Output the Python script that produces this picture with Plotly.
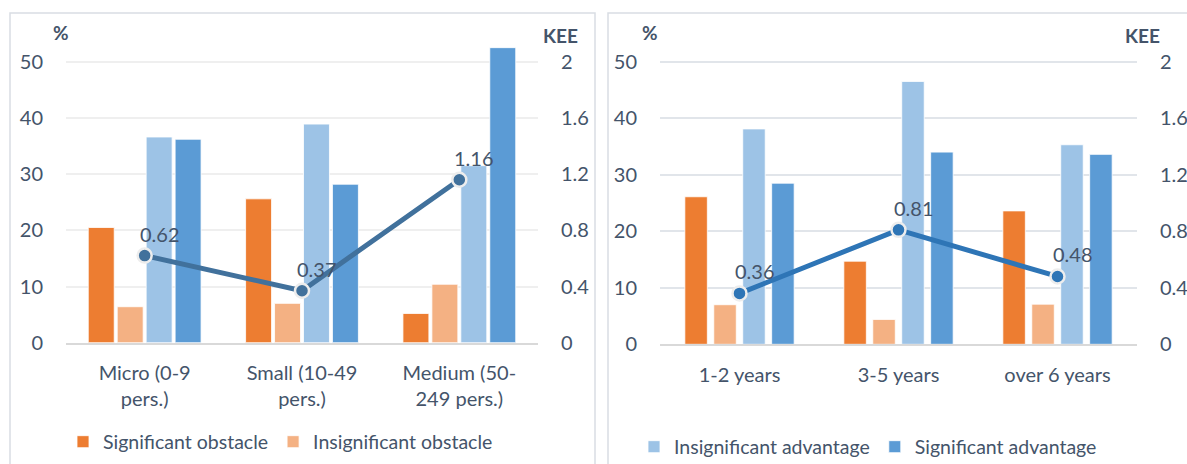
import plotly.graph_objects as go

# Categories
size_cats = ["Micro (0-9<br>pers.)", "Small (10-49<br>pers.)", "Medium (50-<br>249 pers.)"]
age_cats = ["1-2 years", "3-5 years", "over 6 years"]

# Shares (%) by enterprise size
size_sig_obstacle = [20.5, 25.6, 5.2]
size_insig_obstacle = [6.4, 7.0, 10.4]
size_insig_advantage = [36.6, 38.9, 31.5]
size_sig_advantage = [36.2, 28.2, 52.5]
size_kee = [0.62, 0.37, 1.16]

# Shares (%) by enterprise age
age_sig_obstacle = [26.1, 14.7, 23.6]
age_insig_obstacle = [7.0, 4.4, 7.1]
age_insig_advantage = [38.1, 46.5, 35.3]
age_sig_advantage = [28.5, 34.0, 33.6]
age_kee = [0.36, 0.81, 0.48]

series_names = ["Significant obstacle", "Insignificant obstacle",
                "Insignificant advantage", "Significant advantage"]
bar_colors = ["#ED7D31", "#F4B183", "#9DC3E6", "#5B9BD5"]

W, H = 1187, 464
FONT = "Lato"
TXT = "#44546A"


def px(x):
    return x / W


def py(y):
    return 1 - y / H


fig = go.Figure()


def add_panel(cats, series, kee, xa, ya, ya2, legend, show, bar_w, pitch, line_color):
    start = -(3 * pitch + bar_w) / 2
    for i, (name, vals, col) in enumerate(zip(series_names, series, bar_colors)):
        fig.add_trace(go.Bar(
            x=cats, y=vals, name=name, xaxis=xa, yaxis=ya,
            width=bar_w, offset=start + i * pitch,
            marker=dict(color=col, line=dict(color="rgba(255,255,255,0.8)", width=1)),
            legend=legend, showlegend=show[i], hoverinfo="skip",
        ))
    fig.add_trace(go.Scatter(
        x=cats, y=kee, xaxis=xa, yaxis=ya2, mode="lines+markers",
        line=dict(color=line_color, width=5),
        marker=dict(size=14, color=line_color, line=dict(color="#EDEDED", width=2.5)),
        showlegend=False, hoverinfo="skip",
    ))
    for c, v in zip(cats, kee):
        fig.add_annotation(x=c, y=v, xref=xa, yref=ya2, text=f"{v:.2f}",
                           showarrow=False, xshift=15, yshift=22,
                           xanchor="center", yanchor="middle",
                           font=dict(family=FONT, size=20, color=TXT))


add_panel(size_cats,
          [size_sig_obstacle, size_insig_obstacle, size_insig_advantage, size_sig_advantage],
          size_kee, "x", "y", "y2", "legend", [True, True, False, False],
          0.165, 0.184, "#41719C")
add_panel(age_cats,
          [age_sig_obstacle, age_insig_obstacle, age_insig_advantage, age_sig_advantage],
          age_kee, "x2", "y3", "y4", "legend2", [False, False, True, True],
          0.1415, 0.182, "#2E75B6")

tick_font = dict(family=FONT, size=20, color=TXT)

left_dom = [px(66), px(538)]
right_dom = [px(660), px(1137)]
left_ydom = [py(342.7), py(33.6)]
right_ydom = [py(344.3), py(33.4)]

common_x = dict(type="category", range=[-0.5, 2.5], showgrid=False, showline=True,
                linecolor="#D9D9D9", linewidth=1.5, ticks="", tickfont=tick_font,
                ticklabelstandoff=12, fixedrange=True)

fig.update_layout(
    width=W, height=H,
    margin=dict(l=0, r=0, t=0, b=0, autoexpand=False),
    paper_bgcolor="white", plot_bgcolor="white",
    barmode="overlay",
    font=dict(family=FONT, color=TXT),
    xaxis=dict(domain=left_dom, anchor="y", **common_x),
    xaxis2=dict(domain=right_dom, anchor="y3", **common_x),
    yaxis=dict(domain=left_ydom, anchor="x", range=[0, 55], tickvals=[0, 10, 20, 30, 40, 50],
               showgrid=True, gridcolor="#EFEFEF", gridwidth=1.5, zeroline=False,
               tickfont=tick_font, ticklabelstandoff=22, fixedrange=True),
    yaxis2=dict(anchor="x", overlaying="y", side="right", range=[0, 2.2],
                tickvals=[0, 0.4, 0.8, 1.2, 1.6, 2.0], ticktext=["0", "0.4", "0.8", "1.2", "1.6", "2"],
                showgrid=False, zeroline=False, tickfont=tick_font,
                ticklabelstandoff=22, fixedrange=True),
    yaxis3=dict(domain=right_ydom, anchor="x2", range=[0, 55], tickvals=[0, 10, 20, 30, 40, 50],
                showgrid=True, gridcolor="#E1E5EA", gridwidth=1.5, zeroline=False,
                tickfont=tick_font, ticklabelstandoff=22, fixedrange=True),
    yaxis4=dict(anchor="x2", overlaying="y3", side="right", range=[0, 2.2],
                tickvals=[0, 0.4, 0.8, 1.2, 1.6, 2.0], ticktext=["0", "0.4", "0.8", "1.2", "1.6", "2"],
                showgrid=False, zeroline=False, tickfont=tick_font,
                ticklabelstandoff=22, fixedrange=True),
    legend=dict(orientation="h", x=px(63), y=py(442), xanchor="left", yanchor="middle",
                font=dict(family=FONT, size=19.5, color=TXT), bgcolor="rgba(0,0,0,0)",
                itemwidth=30, traceorder="normal"),
    legend2=dict(orientation="h", x=px(634), y=py(447), xanchor="left", yanchor="middle",
                 font=dict(family=FONT, size=19.5, color=TXT), bgcolor="rgba(0,0,0,0)",
                 itemwidth=30, traceorder="normal"),
)

# Panel frames
fig.add_shape(type="rect", xref="paper", yref="paper", x0=px(10), x1=px(595),
              y0=py(500), y1=py(13), line=dict(color="#D9DDE3", width=1.5), layer="below")
fig.add_shape(type="rect", xref="paper", yref="paper", x0=px(608), x1=px(1250),
              y0=py(500), y1=py(13), line=dict(color="#D9DDE3", width=1.5), layer="below")

# Axis unit titles
for xc, yc, txt in [(61, 32, "%"), (650, 32, "%"), (560, 35, "KEE"), (1142, 35, "KEE")]:
    fig.add_annotation(x=px(xc), y=py(yc), xref="paper", yref="paper", text=f"<b>{txt}</b>",
                       xanchor="center", yanchor="middle", showarrow=False,
                       font=dict(family=FONT, size=19, color=TXT))

fig.write_html("out.html")
